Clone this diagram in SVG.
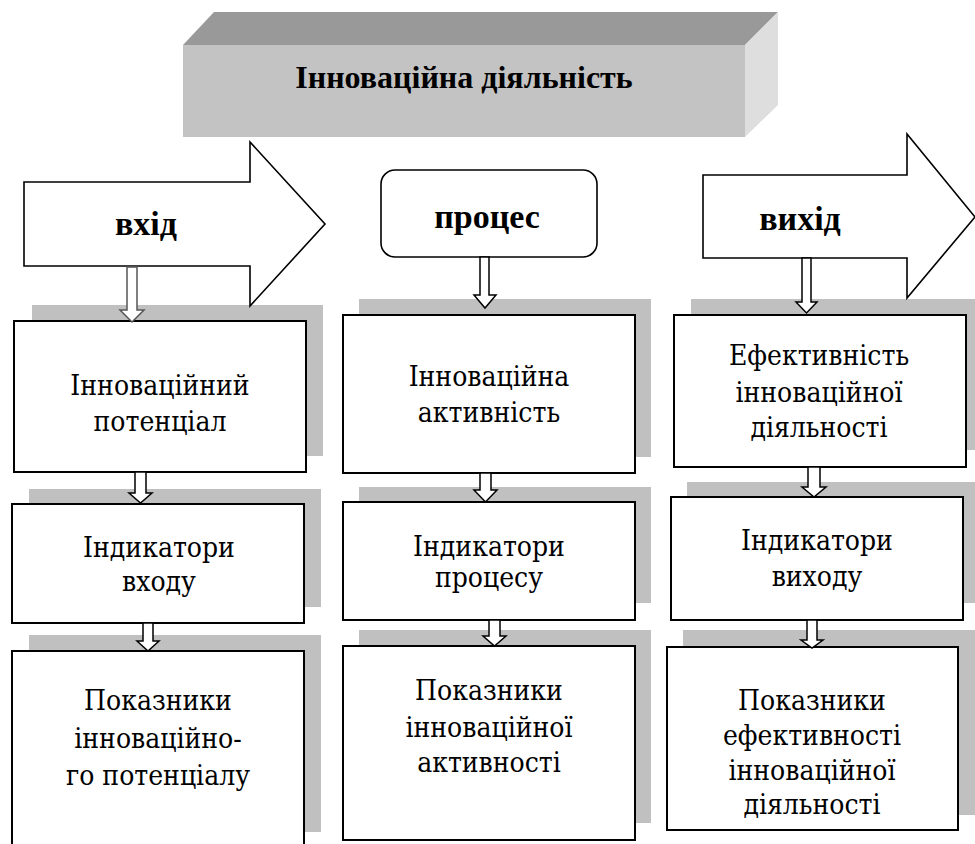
<svg xmlns="http://www.w3.org/2000/svg" width="975" height="844" viewBox="0 0 975 844">
<style>
.shadow{fill:#c0c0c0;stroke:none}
.box{fill:#ffffff;stroke:#000000;stroke-width:2}
.big{fill:#ffffff;stroke:#000000;stroke-width:1.6}
.conn{fill:#ffffff;stroke:#000000;stroke-width:1.5;stroke-linejoin:miter}
.t{font-family:'DejaVu Serif',serif;font-stretch:condensed;font-size:28px;fill:#000;text-anchor:middle}
.b{font-family:'Liberation Serif','DejaVu Serif',serif;font-size:32px;font-weight:bold;fill:#000;text-anchor:middle}
.lb{font-size:34px}
</style>
<rect width="975" height="844" fill="#ffffff"/>

<g id="title">
  <polygon points="183,45 214,12 778,12 745,45" fill="#999999"/>
  <polygon points="745,45 778,12 778,105 745,137" fill="#dedede"/>
  <rect x="183" y="45" width="562" height="92" fill="#c3c3c3"/>
  <text class="b" x="464" y="88">Інноваційна діяльність</text>
</g>

<g id="shadows">
  <rect class="shadow" x="32" y="305" width="291" height="151"/>
  <rect class="shadow" x="29" y="489" width="292" height="118"/>
  <rect class="shadow" x="29" y="635" width="292" height="197"/>
  <rect class="shadow" x="359" y="299" width="292" height="158"/>
  <rect class="shadow" x="359" y="487" width="292" height="116"/>
  <rect class="shadow" x="359" y="630" width="292" height="193"/>
  <rect class="shadow" x="691" y="299" width="284" height="151"/>
  <rect class="shadow" x="687" y="482" width="288" height="121"/>
  <rect class="shadow" x="683" y="630" width="292" height="185"/>
</g>

<g id="input">
  <polygon class="big" points="24,182 250,182 250,142 325,224 250,306 250,266 24,266"/>
  <text class="b lb" x="146" y="235">вхід</text>
</g>
<g id="process">
  <rect class="big" x="381" y="170" width="216" height="87" rx="14" ry="14"/>
  <text class="b lb" x="487" y="228">процес</text>
</g>
<g id="output">
  <polygon class="big" points="703,175 907,175 907,134 975,217 907,298 907,258 703,258"/>
  <text class="b lb" x="800" y="230">вихід</text>
</g>

<g id="potential">
  <rect class="box" x="14" y="321" width="292" height="151"/>
  <text class="t" x="160" y="395">Інноваційний</text>
  <text class="t" x="160" y="431">потенціал</text>
</g>
<g id="input-indicators">
  <rect class="box" x="12" y="504" width="292" height="119"/>
  <text class="t" x="159" y="557">Індикатори</text>
  <text class="t" x="159" y="591">входу</text>
</g>
<g id="potential-metrics">
  <rect class="box" x="12" y="651" width="292" height="200"/>
  <text class="t" x="158" y="710">Показники</text>
  <text class="t" x="158" y="748">інноваційно-</text>
  <text class="t" x="158" y="785">го потенціалу</text>
</g>

<g id="activity">
  <rect class="box" x="343" y="315" width="292" height="158"/>
  <text class="t" x="489" y="386">Інноваційна</text>
  <text class="t" x="489" y="422">активність</text>
</g>
<g id="process-indicators">
  <rect class="box" x="343" y="502" width="292" height="118"/>
  <text class="t" x="489" y="556">Індикатори</text>
  <text class="t" x="489" y="587">процесу</text>
</g>
<g id="activity-metrics">
  <rect class="box" x="343" y="646" width="292" height="194"/>
  <text class="t" x="489" y="700">Показники</text>
  <text class="t" x="489" y="737">інноваційної</text>
  <text class="t" x="489" y="772">активності</text>
</g>

<g id="efficiency">
  <rect class="box" x="674" y="315" width="292" height="152"/>
  <text class="t" x="819" y="365">Ефективність</text>
  <text class="t" x="819" y="402">інноваційної</text>
  <text class="t" x="819" y="437">діяльності</text>
</g>
<g id="output-indicators">
  <rect class="box" x="671" y="497" width="292" height="123"/>
  <text class="t" x="817" y="550">Індикатори</text>
  <text class="t" x="817" y="586">виходу</text>
</g>
<g id="efficiency-metrics">
  <rect class="box" x="667" y="647" width="291" height="183"/>
  <text class="t" x="812" y="710">Показники</text>
  <text class="t" x="812" y="745">ефективності</text>
  <text class="t" x="812" y="780">інноваційної</text>
  <text class="t" x="812" y="814">діяльності</text>
</g>

<g id="connectors">
  <polygon class="conn" style="stroke:#555555" points="127,267 137,267 137,310 144,310 132,322 120,310 127,310"/>
  <polygon class="conn" points="135,472 146,472 146,493 152,493 140.5,503 129,493 135,493"/>
  <polygon class="conn" points="143,623 153,623 153,641 159,641 148,651 137,641 143,641"/>
  <polygon class="conn" points="480,257 489,257 489,295 496,295 485,308 474,295 480,295"/>
  <polygon class="conn" points="480,473 491,473 491,490 497,490 485.5,502 474,490 480,490"/>
  <polygon class="conn" points="489,620 500,620 500,636 506,636 494.5,646 483,636 489,636"/>
  <polygon class="conn" points="802,258 811,258 811,302 817,302 806.5,313 796,302 802,302"/>
  <polygon class="conn" points="808,467 820,467 820,487 826,487 814,497 802,487 808,487"/>
  <polygon class="conn" points="807,620 817,620 817,640 823,640 812,648 801,640 807,640"/>
</g>
</svg>
